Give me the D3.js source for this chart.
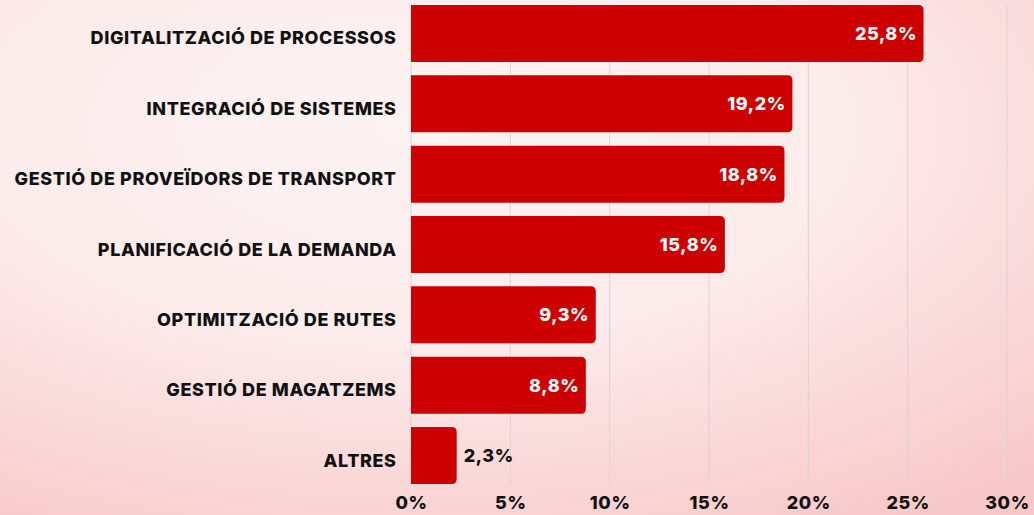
<!DOCTYPE html>
<html><head><meta charset="utf-8">
<script src="https://cdn.jsdelivr.net/npm/d3@7"></script>
<style>html,body{margin:0;padding:0;overflow:hidden;}svg{display:block;}</style>
</head><body>
<svg id="chart" width="1034" height="515"></svg>
<script>
const categories = ["DIGITALITZACIÓ DE PROCESSOS","INTEGRACIÓ DE SISTEMES","GESTIÓ DE PROVEÏDORS DE TRANSPORT","PLANIFICACIÓ DE LA DEMANDA","OPTIMITZACIÓ DE RUTES","GESTIÓ DE MAGATZEMS","ALTRES"];
const values = [25.8, 19.2, 18.8, 15.8, 9.3, 8.8, 2.3];
const valueLabels = ["25,8%","19,2%","18,8%","15,8%","9,3%","8,8%","2,3%"];
const ticks = [0,5,10,15,20,25,30];
const tickLabels = ["0%","5%","10%","15%","20%","25%","30%"];

const W = 1034, H = 515;
const svg = d3.select("#chart");
const font = "Inter, 'Open Sans', sans-serif";
const fs = 18;

const defs = svg.append("defs");
const rg = defs.append("radialGradient").attr("id","bg")
  .attr("cx","40%").attr("cy","25%").attr("r","90%").attr("fx","40%").attr("fy","25%");
rg.append("stop").attr("offset","0%").attr("stop-color","#fdf3f3");
rg.append("stop").attr("offset","45%").attr("stop-color","#fcecec");
rg.append("stop").attr("offset","100%").attr("stop-color","#f8c8c8");
svg.append("rect").attr("width",W).attr("height",H).attr("fill","url(#bg)");

const x = d3.scaleLinear().domain([0,30]).range([411,1007]);
const y = d3.scaleBand().domain(categories).range([5,484]).paddingInner(0.19).paddingOuter(0);

// gridlines
svg.append("g").selectAll("line").data(ticks).join("line")
  .attr("x1",d=>x(d)).attr("x2",d=>x(d))
  .attr("y1",5).attr("y2",484)
  .attr("stroke","#dcd2d2").attr("stroke-width",1);

// bars with rounded right end
const r = 5;
function barPath(x0,x1,y0,h){
  const rr = Math.min(r,(x1-x0));
  return `M${x0},${y0}H${x1-rr}Q${x1},${y0} ${x1},${y0+rr}V${y0+h-rr}Q${x1},${y0+h} ${x1-rr},${y0+h}H${x0}Z`;
}
svg.append("g").selectAll("path").data(categories).join("path")
  .attr("d",(c,i)=>barPath(x(0),x(values[i]),y(c),y.bandwidth()))
  .attr("fill","#cc0000");

// category labels
svg.append("g").selectAll("text").data(categories).join("text")
  .attr("x",396.6).attr("y",c=>y(c)+y.bandwidth()/2+11)
  .attr("text-anchor","end")
  .attr("font-family",font).attr("font-weight",800).attr("font-size",fs)
  .attr("letter-spacing","0.6px")
  .attr("fill","#111").text(c=>c);

// value labels
svg.append("g").selectAll("text").data(categories).join("text")
  .attr("x",(c,i)=> values[i] > 5 ? x(values[i])-6.5 : x(values[i])+7)
  .attr("y",c=>y(c)+y.bandwidth()/2+6.5)
  .attr("text-anchor",(c,i)=> values[i] > 5 ? "end" : "start")
  .attr("font-family",font).attr("font-weight",800).attr("font-size",fs)
  .attr("letter-spacing","0.6px")
  .attr("fill",(c,i)=> values[i] > 5 ? "#fff" : "#111")
  .text((c,i)=>valueLabels[i]);

// x axis tick labels
const ax = d3.axisBottom(x).tickValues(ticks).tickFormat((d,i)=>tickLabels[i]).tickSize(0).tickPadding(0);
const g = svg.append("g").attr("transform","translate(0,509)").call(ax);
g.select(".domain").remove();
g.selectAll("text").attr("dy",null).attr("y",0)
  .attr("font-family",font).attr("font-weight",800).attr("font-size",fs)
  .attr("letter-spacing","0.6px").attr("fill","#111");
</script>
</body></html>
